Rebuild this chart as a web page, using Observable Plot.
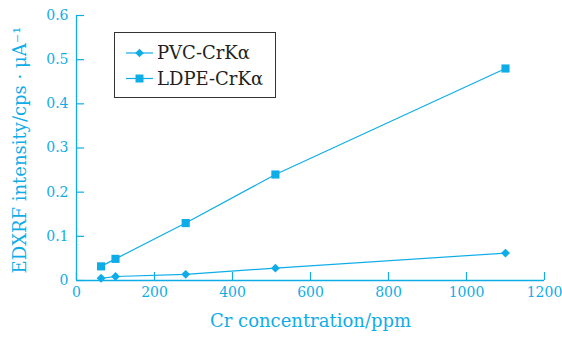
<!DOCTYPE html>
<html><head><meta charset="utf-8">
<script src="https://cdn.jsdelivr.net/npm/d3@7"></script>
<script src="https://cdn.jsdelivr.net/npm/@observablehq/plot@0.6"></script>
<style>
body{margin:0;background:#fff;}
#wrap{position:relative;width:562px;height:338px;}
#legend{position:absolute;left:114px;top:32px;width:162px;height:66px;border:1px solid #333;box-sizing:border-box;background:#fff;}
#legend svg{display:block;}
</style></head><body><div id="wrap"></div>
<script>
const concentration = [63, 100, 280, 510, 1100];
const pvc = [0.005, 0.009, 0.014, 0.028, 0.062];
const ldpe = [0.032, 0.049, 0.13, 0.24, 0.48];
const xTicks = [0, 200, 400, 600, 800, 1000, 1200];
const yTicks = [0, 0.1, 0.2, 0.3, 0.4, 0.5, 0.6];
const seriesNames = ["PVC-CrKα", "LDPE-CrKα"];
const xLabel = "Cr concentration/ppm";
const yLabel = "EDXRF intensity/cps · μA⁻¹";

const C = "#0fade8";
const W = 562, H = 338, mL = 76, mR = 18, mT = 15, mB = 58;
const innerW = W - mL - mR, innerH = H - mT - mB;
const font = "DejaVu Serif";

const pvcData = concentration.map((x, i) => ({x, y: pvc[i]}));
const ldpeData = concentration.map((x, i) => ({x, y: ldpe[i]}));

const chart = Plot.plot({
  width: W, height: H,
  marginLeft: mL, marginRight: mR, marginTop: mT, marginBottom: mB,
  style: {fontFamily: font, background: "#fff"},
  x: {domain: [0, 1200], axis: null},
  y: {domain: [0, 0.6], axis: null},
  marks: [
    Plot.ruleX([0], {stroke: C, strokeWidth: 1.3}),
    Plot.ruleY([0], {stroke: C, strokeWidth: 1.3}),
    Plot.tickX(xTicks, {x: d => d, stroke: C, strokeWidth: 1.2, insetTop: innerH - 8}),
    Plot.tickY(yTicks, {y: d => d, stroke: C, strokeWidth: 1.2, insetRight: innerW - 8}),
    Plot.text(xTicks, {x: d => d, text: d => String(d), frameAnchor: "bottom", dy: 16, fill: C, fontSize: 14}),
    Plot.text(yTicks, {y: d => d, text: d => d === 0 ? "0" : d.toFixed(1), frameAnchor: "left", dx: -8, textAnchor: "end", fill: C, fontSize: 14}),
    Plot.text([xLabel], {text: d => d, frameAnchor: "bottom", dy: 46, fill: C, fontSize: 18}),
    Plot.text([yLabel], {text: d => d, frameAnchor: "left", textAnchor: "middle", dx: -56, dy: 2, rotate: -90, fill: C, fontSize: 18}),
    Plot.line(pvcData, {x: "x", y: "y", stroke: C, strokeWidth: 1.2}),
    Plot.line(ldpeData, {x: "x", y: "y", stroke: C, strokeWidth: 1.2}),
    Plot.dot(pvcData, {x: "x", y: "y", symbol: "diamond2", r: 4, fill: C, stroke: null}),
    Plot.dot(ldpeData, {x: "x", y: "y", symbol: "square", r: 4.6, fill: C, stroke: null})
  ]
});
const wrap = document.getElementById("wrap");
wrap.appendChild(chart);

// legend
const leg = document.createElement("div");
leg.id = "legend";
wrap.appendChild(leg);
const ls = d3.select(leg).append("svg").attr("width", 160).attr("height", 64);
const syms = [d3.symbol(d3.symbolDiamond2, 47), d3.symbol(d3.symbolSquare, 64)];
seriesNames.forEach((name, i) => {
  const cy = 20 + i * 25.5;
  ls.append("line").attr("x1", 11).attr("x2", 38).attr("y1", cy).attr("y2", cy).attr("stroke", C).attr("stroke-width", 1.2);
  ls.append("path").attr("d", syms[i]()).attr("transform", `translate(24.5,${cy})`).attr("fill", C);
  ls.append("text").attr("x", 42).attr("y", cy).attr("dy", "0.35em").attr("font-family", font).attr("font-size", 18).attr("fill", "#231f20").text(name);
});
</script></body></html>
